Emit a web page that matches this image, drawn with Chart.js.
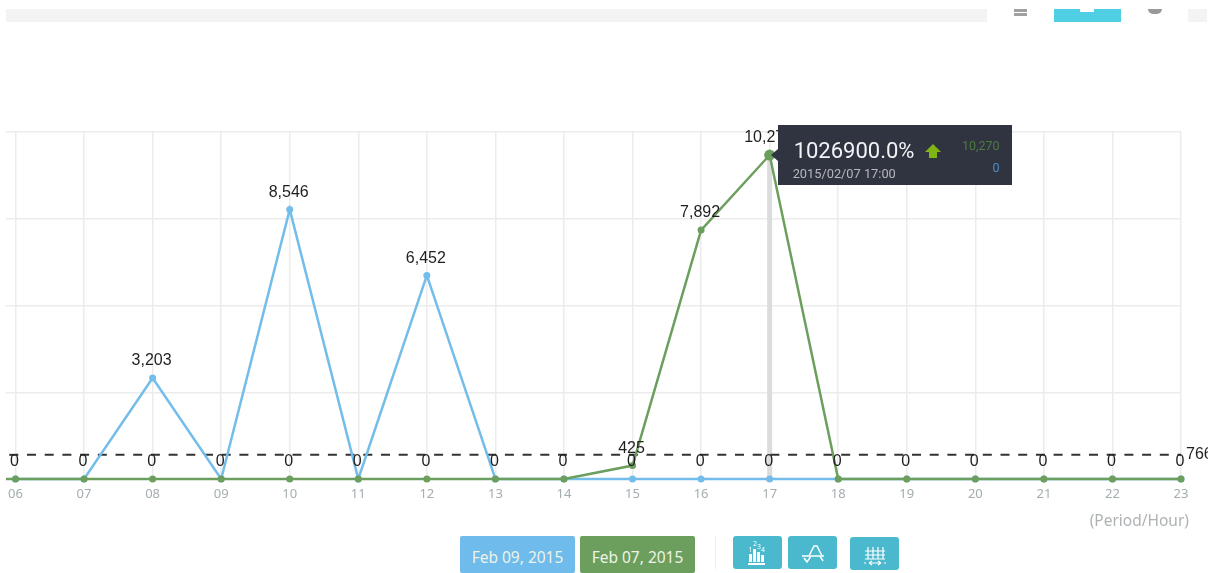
<!DOCTYPE html>
<html>
<head>
<meta charset="utf-8">
<script src="https://cdn.jsdelivr.net/npm/chart.js@4"></script>
<style>
html, body { margin: 0; padding: 0; background: #fff; width: 1208px; height: 573px; overflow: hidden; }
canvas { position: absolute; left: 0; top: 0; }
.box { position: absolute; }
.btn { position: absolute; color: #eef3e6; font: 15.5px "Noto Sans", sans-serif; text-align: center; line-height: 42px; border-radius: 2px; }
.icon { position: absolute; background: #4ab9cd; border-radius: 3px; width: 49px; height: 33px; }
#tip { position: absolute; width: 234px; height: 60px; background: #2f3440; font-family: Roboto, sans-serif; }
#tip div { position: absolute; white-space: nowrap; }
#tip::before { content: ""; position: absolute; left: -7px; top: 24px; border: 6px solid transparent; border-left: 0; border-right: 7px solid #2f3440; }
</style>
</head>
<body>
<!-- what is left of the toolbar above the chart -->
<div class="box" style="left:6px;top:9px;width:981px;height:13px;background:#f3f3f3"></div>
<div class="box" style="left:1188px;top:9px;width:19px;height:13px;background:#f3f3f3"></div>
<div class="box" style="left:1014px;top:9px;width:13px;height:3px;background:#a0a0a0"></div>
<div class="box" style="left:1014px;top:13px;width:13px;height:3px;background:#a0a0a0"></div>
<div class="box" style="left:1054px;top:9px;width:67px;height:13px;background:#4fcfe4"></div>
<div class="box" style="left:1080px;top:9px;width:14px;height:3px;background:#fff"></div>
<div class="box" style="left:1148px;top:9px;width:14px;height:5px;background:#999;border-radius:0 0 8px 8px"></div>

<canvas id="chart" width="1208" height="573"></canvas>

<div class="box" style="right:19px;top:509px;color:#aeb2b4;font:15.5px 'Noto Sans',sans-serif">(Period/Hour)</div>

<div class="btn" style="left:460px;top:536px;width:115px;height:37px;background:#6fbbec" id="btnA"></div>
<div class="btn" style="left:580px;top:536px;width:115px;height:37px;background:#6c9f5e" id="btnB"></div>
<div class="box" style="left:715px;top:536px;width:1px;height:33px;background:#eee"></div>

<div class="icon" style="left:733px;top:536px">
  <svg width="49" height="33" fill="#fff" font-family="Noto Sans" font-size="7">
    <rect x="16" y="18" width="3" height="8"/><rect x="20" y="13" width="3" height="13"/><rect x="24" y="16" width="3" height="10"/><rect x="28" y="19" width="3" height="7"/>
    <rect x="15" y="27" width="17" height="2"/>
    <text x="15.5" y="16">1</text><text x="20" y="10">2</text><text x="24" y="13">3</text><text x="28" y="16">4</text>
  </svg>
</div>
<div class="icon" style="left:787.5px;top:536px">
  <svg width="49" height="33" fill="none" stroke="#fff" stroke-width="1.5">
    <path d="M14 20 H21 L26 10 H29 L34 20 H36"/><path d="M16 22 L19 26 L23 20 H32 L35 25"/>
  </svg>
</div>
<div class="icon" style="left:850px;top:537px">
  <svg width="49" height="33" fill="none" stroke="#fff" stroke-width="1.2">
    <path d="M15 14 H35 M15 18 H35 M15 22 H35 M18 10 V22 M23 10 V22 M28 10 V22 M33 10 V22"/>
    <path d="M19 26 H31 M19 26 l3 -2 M19 26 l3 2 M31 26 l-3 -2 M31 26 l-3 2 M14 26 h2 M34 26 h2"/>
  </svg>
</div>

<div id="tip">
  <div id="tipPct" style="left:16px;top:13px;color:#f1f3f5;font-size:22px"></div>
  <div id="tipDate" style="left:15px;top:41px;color:#b5b8bc;font-size:12.8px"></div>
  <svg style="position:absolute;left:147px;top:19px" width="16" height="14"><path d="M8 0 L16 8 H12 V14 H4 V8 H0 Z" fill="#7fb414"/></svg>
  <div id="tipA" style="right:12px;top:13px;color:#4f7a3f;font-size:12.5px"></div>
  <div id="tipB" style="right:12px;top:35px;color:#4e8fc0;font-size:12.5px"></div>
</div>

<script>
const hours = ['06','07','08','09','10','11','12','13','14','15','16','17','18','19','20','21','22','23'];
const feb09 = [0,0,3203,0,8546,0,6452,0,0,0,0,0,0,0,0,0,0,0];
const feb07 = [0,0,0,0,0,0,0,0,0,425,7892,10270,0,0,0,0,0,0];
const average = [766,766,766,766,766,766,766,766,766,766,766,766,766,766,766,766,766,766];
const legendLabels = ['Feb 09, 2015', 'Feb 07, 2015'];
const tipPercent = '1026900.0%';
const tipDate = '2015/02/07 17:00';
const activeIndex = 11;

const blue = '#74bdea';
const green = '#6c9f5e';

document.getElementById('btnA').textContent = legendLabels[0];
document.getElementById('btnB').textContent = legendLabels[1];
document.getElementById('tipPct').textContent = tipPercent;
document.getElementById('tipDate').textContent = tipDate;
document.getElementById('tipA').textContent = feb07[activeIndex].toLocaleString('en-US');
document.getElementById('tipB').textContent = feb09[activeIndex].toLocaleString('en-US');

const hoverLine = {
    id: 'hoverLine',
    beforeDatasetsDraw(chart) {
        const { ctx, scales: { x, y } } = chart;
        const px = x.getPixelForValue(activeIndex);
        ctx.save();
        ctx.fillStyle = '#dcdcdc';
        ctx.fillRect(px - 2.5, y.getPixelForValue(feb07[activeIndex]), 5, y.getPixelForValue(0) - y.getPixelForValue(feb07[activeIndex]));
        ctx.restore();
    }
};

// the original chart was cropped, its lines run on a little left of the first point
const leftStubs = {
    id: 'leftStubs',
    beforeDatasetsDraw(chart) {
        const { ctx, scales: { x, y } } = chart;
        const px = x.getPixelForValue(0);
        ctx.save();
        ctx.lineWidth = 2.5;
        ctx.strokeStyle = green;
        ctx.beginPath();
        ctx.moveTo(6, y.getPixelForValue(feb07[0]));
        ctx.lineTo(px, y.getPixelForValue(feb07[0]));
        ctx.stroke();
        ctx.lineWidth = 2;
        ctx.strokeStyle = '#333';
        ctx.beginPath();
        ctx.moveTo(9.3, y.getPixelForValue(average[0]));
        ctx.lineTo(px, y.getPixelForValue(average[0]));
        ctx.stroke();
        ctx.restore();
    }
};

const valueLabels = {
    id: 'valueLabels',
    afterDatasetsDraw(chart) {
        const { ctx, scales: { x, y } } = chart;
        ctx.save();
        ctx.font = '16px "Liberation Sans", Arial, sans-serif';
        ctx.fillStyle = '#1f1f1f';
        ctx.textAlign = 'center';
        ctx.textBaseline = 'middle';
        hours.forEach(function (h, i) {
            const px = x.getPixelForValue(i) - 1;
            ctx.fillText(feb09[i].toLocaleString('en-US'), px, y.getPixelForValue(feb09[i]) - 17);
            // both series at zero would print the same 0 twice
            if (feb07[i] !== feb09[i]) {
                ctx.fillText(feb07[i].toLocaleString('en-US'), px, y.getPixelForValue(feb07[i]) - 17);
            }
        });
        ctx.textAlign = 'left';
        ctx.fillText(String(average[0]), x.getPixelForValue(hours.length - 1) + 5, y.getPixelForValue(average[0]));
        ctx.restore();

        const tip = document.getElementById('tip');
        tip.style.left = (x.getPixelForValue(activeIndex) + 8) + 'px';
        tip.style.top = (y.getPixelForValue(feb07[activeIndex]) - 30) + 'px';
    }
};

new Chart(document.getElementById('chart').getContext('2d'), {
    type: 'line',
    data: {
        labels: hours,
        datasets: [
            {
                data: average,
                borderColor: '#333',
                borderWidth: 2,
                borderDash: [9, 8.7],
                borderDashOffset: 6.2,
                pointRadius: 0,
                tension: 0,
                clip: false,
                order: 3
            },
            {
                label: legendLabels[1],
                data: feb07,
                borderColor: green,
                backgroundColor: green,
                borderWidth: 2.5,
                pointRadius: function (c) { return c.dataIndex === activeIndex ? 5.5 : 3.5; },
                pointBorderWidth: 0,
                tension: 0,
                clip: false,
                order: 1
            },
            {
                label: legendLabels[0],
                data: feb09,
                borderColor: blue,
                backgroundColor: blue,
                borderWidth: 2.5,
                pointRadius: 3.5,
                pointBorderWidth: 0,
                tension: 0,
                clip: false,
                order: 2
            }
        ]
    },
    options: {
        responsive: false,
        animation: false,
        events: [],
        layout: { padding: { left: 6, right: 27, top: 132, bottom: 0 } },
        plugins: {
            legend: { display: false },
            tooltip: { enabled: false }
        },
        scales: {
            x: {
                grid: { color: '#ececec', lineWidth: 1.5, drawTicks: false },
                border: { display: false },
                ticks: {
                    autoSkip: false,
                    maxRotation: 0,
                    padding: 7,
                    color: '#a4adb0',
                    font: { family: '"Noto Sans", sans-serif', size: 13 }
                },
                afterFit(scale) { scale.height = 94; }
            },
            y: {
                min: 0,
                max: 11000,
                grid: { color: '#ececec', lineWidth: 1.5, tickLength: 9.5 },
                border: { display: false },
                ticks: { display: false, stepSize: 2750 }
            }
        }
    },
    plugins: [hoverLine, leftStubs, valueLabels]
});
</script>
</body>
</html>
